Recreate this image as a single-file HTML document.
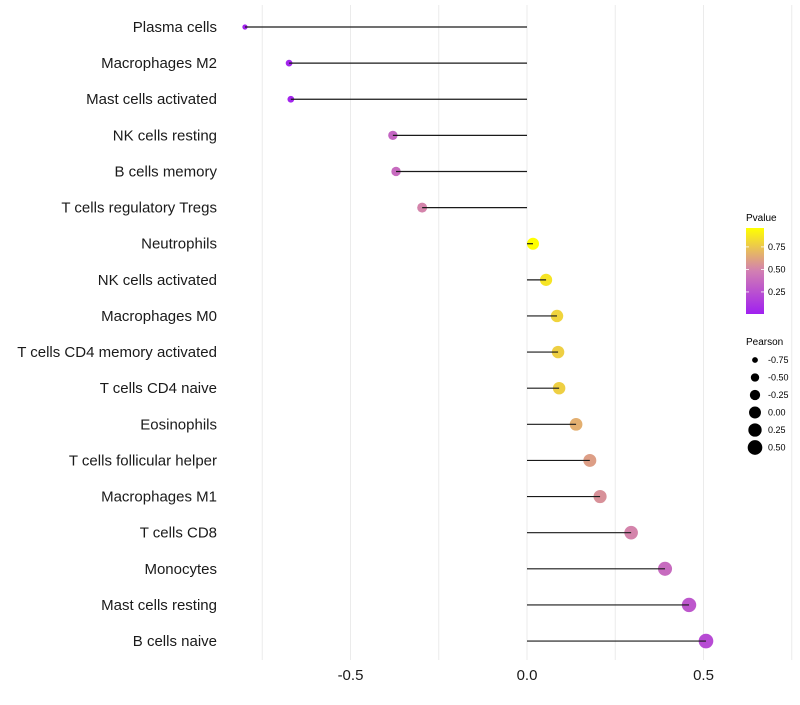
<!DOCTYPE html>
<html><head><meta charset="utf-8"><style>
body{margin:0;background:#fff;font-family:"Liberation Sans",sans-serif}
</style></head><body>
<svg id="chart" width="800" height="700" xmlns="http://www.w3.org/2000/svg">
<defs><linearGradient id="pg" x1="0" y1="1" x2="0" y2="0">
<stop offset="0" stop-color="#a020f0"/><stop offset="0.5" stop-color="#d27fb2"/><stop offset="1" stop-color="#ffff00"/></linearGradient></defs>
<g id="grid"></g>
<g id="dots"></g>
<g id="marks"></g>
<g id="axes"></g>
<g font-size="10" fill="#000">
<text x="746" y="221">Pvalue</text>
<rect x="746" y="228" width="18" height="86" fill="url(#pg)"/>
<g id="cbticks"></g>
</g>
<g id="sizeleg" font-size="9">
<text x="746" y="345" font-size="10">Pearson</text>
</g>
</svg>
<script>
const cells=["Plasma cells","Macrophages M2","Mast cells activated","NK cells resting","B cells memory","T cells regulatory  Tregs","Neutrophils","NK cells activated","Macrophages M0","T cells CD4 memory activated","T cells CD4 naive","Eosinophils","T cells follicular helper","Macrophages M1","T cells CD8","Monocytes","Mast cells resting","B cells naive"];
const pearson=[-0.799,-0.674,-0.669,-0.380,-0.371,-0.297,0.017,0.054,0.085,0.088,0.091,0.139,0.178,0.207,0.295,0.391,0.459,0.507];
const pvalues=[0.02,0.03,0.03,0.35,0.38,0.5,0.96,0.86,0.8,0.78,0.78,0.66,0.6,0.55,0.5,0.38,0.28,0.22];
const xTicks=[-0.5,0.0,0.5];
const xTickLabels=["-0.5","0.0","0.5"];
const sizeLegendVals=[-0.75,-0.5,-0.25,0,0.25,0.5];
const pTicks=[0.25,0.5,0.75];
const NS="http://www.w3.org/2000/svg";
const x=v=>527+v*353;
const y=i=>27+i*36.12;
const pc=v=>314-(v-0.005)/0.955*86;
const r=v=>Math.sqrt(Math.max(3,35.5+36*v));
function lerp(a,b,t){return a.map((c,i)=>Math.round(c+(b[i]-c)*t));}
function col(p){const A=[160,32,240],M=[210,127,178],B=[255,255,0];const t=Math.min(1,Math.max(0,(p-0.005)/0.955));const c=t<0.5?lerp(A,M,t*2):lerp(M,B,(t-0.5)*2);return `rgb(${c})`;}
function mk(tag,attrs,parent,txt){const e=document.createElementNS(NS,tag);for(const k in attrs)e.setAttribute(k,attrs[k]);if(txt!==undefined)e.textContent=txt;parent.appendChild(e);return e;}
const grid=document.getElementById('grid'),marks=document.getElementById('marks'),dots=document.getElementById('dots'),axes=document.getElementById('axes');
for(let v=-0.75;v<=0.76;v+=0.25){const g=mk('line',{x1:x(v),x2:x(v),y1:5,y2:660,stroke:'#ebebeb','stroke-width':1},grid);

}
cells.forEach((c,i)=>{
const t=mk('text',{x:217,y:y(i)+5,'text-anchor':'end','font-size':15,fill:'#1a1a1a'},axes,c);


const l=mk('line',{x1:x(0),x2:x(pearson[i]),y1:y(i),y2:y(i),stroke:'#1a1a1a','stroke-width':1.2},marks);


const d=mk('circle',{cx:x(pearson[i]),cy:y(i),r:r(pearson[i]),fill:col(pvalues[i])},dots);


});
xTicks.forEach((v,i)=>{const t=mk('text',{x:x(v),y:680,'text-anchor':'middle','font-size':15,fill:'#1a1a1a'},axes,xTickLabels[i]);

});
const cb=document.getElementById('cbticks');
pTicks.forEach(p=>{mk('line',{x1:746,x2:749,y1:pc(p),y2:pc(p),stroke:'#fff','stroke-width':0.8},cb);mk('line',{x1:761,x2:764,y1:pc(p),y2:pc(p),stroke:'#fff','stroke-width':0.8},cb);
const t=mk('text',{x:768,y:pc(p)+3,'font-size':9},cb,p.toFixed(2));

});
const sl=document.getElementById('sizeleg');
sizeLegendVals.forEach((v,i)=>{const cy=360+i*17.5;const c=mk('circle',{cx:755,cy:cy,r:r(v),fill:'#000'},sl);


const t=mk('text',{x:768,y:cy+3,'font-size':9},sl,v.toFixed(2));

});
</script>
</body></html>
